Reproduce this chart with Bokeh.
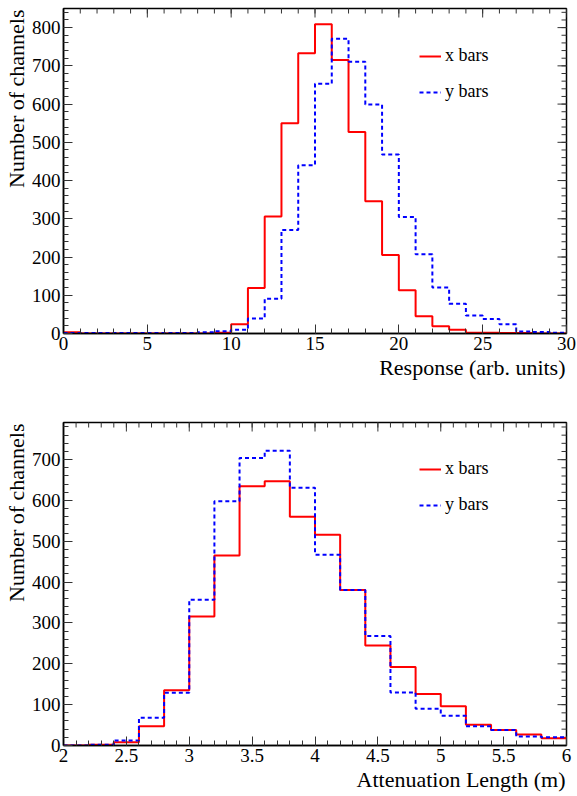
import numpy as np
from bokeh.plotting import figure
from bokeh.layouts import column
from bokeh.models import (FixedTicker, LinearAxis, Range1d, Legend, LegendItem,
                          CustomJSTickFormatter, Title)
from bokeh.embed import file_html
from bokeh.resources import INLINE

# ---- data: response histogram (bins of width 1 from 0 to 30)
resp_lo, resp_hi, resp_nbins = 0.0, 30.0, 30
resp_xbars = [3, 0, 0, 0, 0, 0, 0, 0, 0, 2, 24, 119, 306, 550, 733, 809, 715, 527,
              346, 205, 113, 45, 19, 10, 2, 2, 1, 1, 0, 0]
resp_ybars = [1, 1, 1, 1, 1, 1, 1, 1, 3, 6, 10, 39, 91, 271, 440, 653, 771, 711,
              599, 468, 305, 207, 120, 78, 47, 38, 24, 5, 4, 2]
resp_xticks = [0, 5, 10, 15, 20, 25, 30]
resp_yticks = [0, 100, 200, 300, 400, 500, 600, 700, 800]

# ---- data: attenuation length histogram (bins of width 0.2 from 2 to 6)
att_lo, att_hi, att_nbins = 2.0, 6.0, 20
att_xbars = [0, 2, 8, 47, 135, 316, 465, 635, 647, 560, 516, 381, 245, 192, 126,
             96, 51, 38, 27, 18]
att_ybars = [0, 2, 12, 68, 129, 357, 598, 704, 722, 631, 467, 381, 268, 130, 90,
             73, 47, 38, 22, 20]
att_xticks = [2.0, 2.5, 3.0, 3.5, 4.0, 4.5, 5.0, 5.5, 6.0]
att_yticks = [0, 100, 200, 300, 400, 500, 600, 700]

FONT = "Liberation Serif"
TICK_COLOR = "#333333"


def step_xy(lo, hi, n, counts):
    edges = np.linspace(lo, hi, n + 1)
    xs = np.repeat(edges, 2)[1:-1]
    ys = np.repeat(np.asarray(counts, dtype=float), 2)
    return xs, ys


def style_axis(ax, ticker):
    ax.ticker = ticker
    ax.major_tick_in = 9
    ax.major_tick_out = 0
    ax.minor_tick_in = 5
    ax.minor_tick_out = 0
    ax.major_tick_line_color = TICK_COLOR
    ax.minor_tick_line_color = TICK_COLOR
    ax.axis_line_color = "black"
    ax.axis_line_width = 1.5
    ax.major_label_text_font = FONT
    ax.major_label_text_font_size = "19px"
    ax.major_label_text_color = "black"
    ax.major_label_standoff = 3


def mirror_ticks(p, xticks, xminor, yticks, yminor, ytop, xright):
    # ticks drawn inside the frame on the top and right edges (clipped markers)
    p.scatter(x=xticks, y=[ytop] * len(xticks), marker="dash", angle=np.pi / 2,
              size=18, line_color=TICK_COLOR, line_width=1)
    p.scatter(x=xminor, y=[ytop] * len(xminor), marker="dash", angle=np.pi / 2,
              size=10, line_color=TICK_COLOR, line_width=1)
    p.scatter(x=[xright] * len(yticks), y=yticks, marker="dash",
              size=18, line_color=TICK_COLOR, line_width=1)
    p.scatter(x=[xright] * len(yminor), y=yminor, marker="dash",
              size=10, line_color=TICK_COLOR, line_width=1)


def axis_title(text):
    return Title(text=text, align="right", text_font=FONT,
                 text_font_size="22px", text_font_style="normal",
                 text_color="black", standoff=0, offset=1)


def make_hist(lo, hi, n, red, blue, ymax, xticks, xminor, yticks, yminor,
              xlabel, height, top_border, bottom_border, legend_y, fmt):
    p = figure(width=577, height=height, output_backend="svg",
               toolbar_location=None, x_range=Range1d(lo, hi),
               y_range=Range1d(0, ymax), x_axis_location=None,
               y_axis_location=None, min_border_left=63, min_border_right=11,
               min_border_top=top_border, min_border_bottom=bottom_border)
    p.grid.visible = False
    p.outline_line_color = "black"
    p.outline_line_width = 1.5
    p.background_fill_color = "white"
    p.border_fill_color = "white"

    xb = LinearAxis()
    style_axis(xb, FixedTicker(ticks=xticks, minor_ticks=xminor))
    xb.formatter = fmt
    p.add_layout(xb, "below")

    yl = LinearAxis()
    style_axis(yl, FixedTicker(ticks=yticks, minor_ticks=yminor))
    p.add_layout(yl, "left")

    # axis titles, right/top aligned like ROOT
    p.add_layout(axis_title(xlabel), "below")
    p.add_layout(axis_title("Number of channels"), "left")

    mirror_ticks(p, xticks, xminor, yticks, yminor, ymax, hi)

    bx, by = step_xy(lo, hi, n, blue)
    rx, ry = step_xy(lo, hi, n, red)
    r_red = p.line(rx, ry, line_color="#ff0000", line_width=2)
    r_blue = p.line(bx, by, line_color="#0000ff", line_width=2, line_dash="4 3")

    leg = Legend(items=[LegendItem(label="x bars", renderers=[r_red]),
                        LegendItem(label="y bars", renderers=[r_blue])],
                 location=(356, legend_y))
    leg.label_text_font = FONT
    leg.label_text_font_size = "18px"
    leg.label_text_color = "black"
    leg.border_line_alpha = 0
    leg.background_fill_alpha = 0
    leg.glyph_width = 22
    leg.glyph_height = 20
    leg.label_height = 20
    leg.spacing = 15
    leg.padding = 0
    leg.margin = 0
    leg.label_standoff = 4
    p.add_layout(leg)
    return p


fmt_int = CustomJSTickFormatter(code="return String(Math.round(tick));")
fmt_dec = CustomJSTickFormatter(code="return String(Math.round(tick*10)/10);")

resp_minor_x = [float(v) for v in np.arange(0, 31, 1)]
resp_minor_y = [float(v) for v in np.arange(0, 860, 20)]
att_minor_x = [round(float(v), 1) for v in np.arange(2.0, 6.01, 0.1)]
att_minor_y = [float(v) for v in np.arange(0, 800, 20)]

p1 = make_hist(resp_lo, resp_hi, resp_nbins, resp_xbars, resp_ybars, 850,
               resp_xticks, resp_minor_x, resp_yticks, resp_minor_y,
               "Response (arb. units)", 390, 8, 57, 231, fmt_int)
p2 = make_hist(att_lo, att_hi, att_nbins, att_xbars, att_ybars, 791,
               att_xticks, att_minor_x, att_yticks, att_minor_y,
               "Attenuation Length (m)", 406, 32, 51, 230, fmt_dec)

layout = column(p1, p2, spacing=0)
open("out.html", "w").write(file_html(layout, INLINE))
